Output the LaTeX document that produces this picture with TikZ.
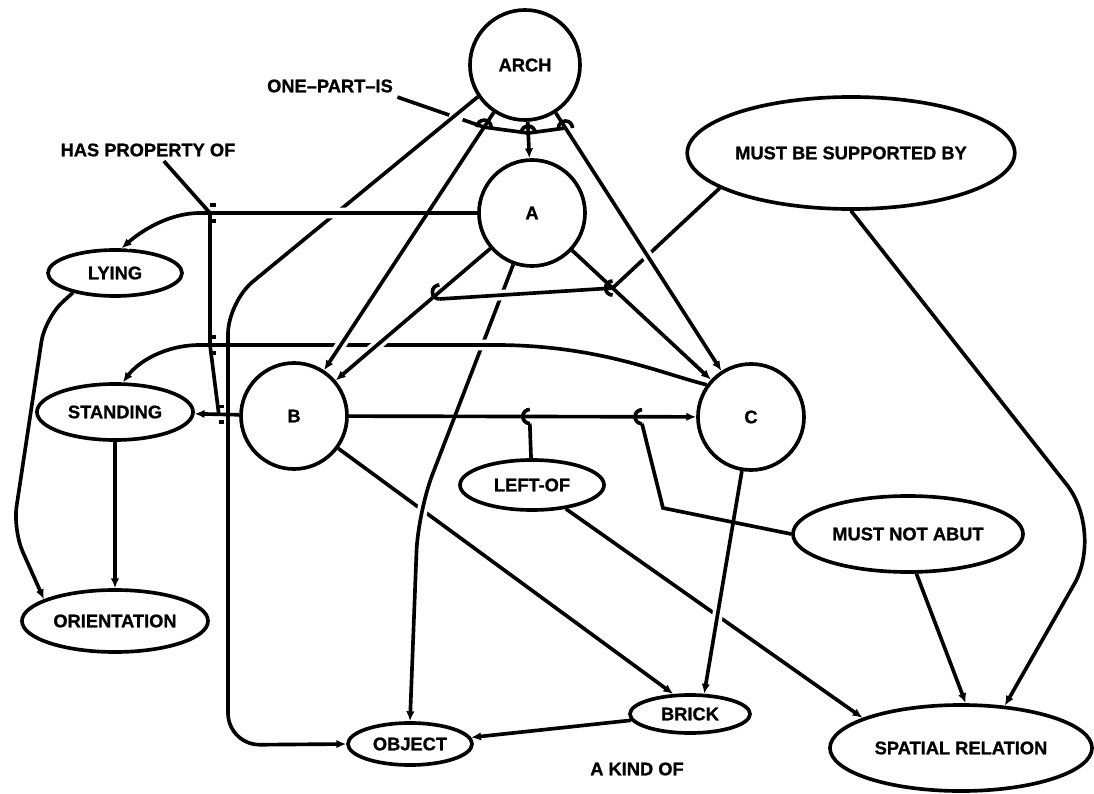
\documentclass[tikz,border=0pt]{standalone}
\usepackage{fontspec}
\setmainfont{Liberation Sans}[BoldFeatures={FakeBold=1}]
\usepackage{tikz}
\usetikzlibrary{calc}
\usetikzlibrary{arrows.meta}
\usetikzlibrary{shapes}
\tikzset{
	every node/.style={font=\bfseries\fontsize{13}{15}\selectfont},
	align=center,
	part/.style={
		draw,
		circle,
		inner sep=0pt,
		minimum size=2.65cm,
	},
	concept/.style={
		draw,
		ellipse,
		inner sep=0pt,
	},
	tag/.style={
		inner sep=2pt,
	},
	link/.style={
		-{Latex[length=7pt,width=6pt]},
	},
	halo/.style={
		preaction={draw=white, line width=7.5pt, -, shorten <=3pt, shorten >=3pt, #1},
	},
	halo/.default={},
	hook/.pic={
		\draw (0,-5pt) arc[start angle=-90, end angle=-270, radius=5pt];
	},
	tick/.pic={
		\draw (0,5.5pt) -- (4pt,5.5pt) (0,-5.5pt) -- (4pt,-5.5pt);
	},
}

\begin{document}
\begin{tikzpicture}[x=0.025cm, y=-0.025cm, line width=2.6pt]
		\useasboundingbox (0,0) rectangle (1094,794);

		\node[part, minimum size=2.75cm]	(arch) at (525,65) {ARCH};
		\node[part]			(a) at (532,213) {A};
		\node[part]			(b) at (294,416) {B};
		\node[part]			(c) at (751,417) {C};

		\node[concept, minimum width=3.35cm, minimum height=1.15cm]	(lying) at (115,273) {LYING};
		\node[concept, minimum width=3.9cm, minimum height=1.4cm]	(standing) at (115,412) {STANDING};
		\node[concept, minimum width=4.65cm, minimum height=1.55cm]	(orientation) at (115,621) {ORIENTATION};
		\node[concept, minimum width=3.1cm, minimum height=1.05cm]	(object) at (410,744) {OBJECT};
		\node[concept, minimum width=3cm, minimum height=0.95cm]	(brick) at (690,714) {BRICK};
		\node[concept, minimum width=6.55cm, minimum height=2.15cm]	(spatial) at (961,748) {SPATIAL RELATION};
		\node[concept, minimum width=5.75cm, minimum height=1.9cm]	(mna) at (908,534) {MUST NOT ABUT};
		\node[concept, minimum width=3.6cm, minimum height=1.25cm]	(leftof) at (532,485) {LEFT-OF};
		\node[concept, minimum width=8cm, minimum height=2.8cm]	(mbsb) at (851,153) {MUST BE SUPPORTED BY};

		\node[tag]			(onepart) at (330,86) {ONE--PART--IS};
		\node[tag]			(hasprop) at (148,150) {HAS PROPERTY OF};
		\node[tag]			(akind) at (637,769) {A KIND OF};

		\coordinate (h1) at ($(arch)!0.177!(b)$);
		\coordinate (h2) at ($(arch)!0.46!(a)$);
		\coordinate (h3) at ($(arch)!0.179!(c)$);
		\coordinate (s1) at ($(a)!0.368!(c)$);
		\coordinate (s2) at ($(a)!0.389!(b)$);
		\coordinate (lo) at ($(b)!0.516!(c)$);
		\coordinate (na) at ($(b)!0.7615!(c)$);
		\coordinate (pa) at (210,213);
		\coordinate (pb) at (210,345);
		\coordinate (pc) at ($(b)!0.42!(standing)$);

%*********

		\draw[link] 					(b) -- (brick.130);
		\draw[link, halo, rounded corners=1cm]	(a.250) -- (418,512) -- (object.north);
		\draw[link, halo] 			(c.144) .. controls (660,373) and (600,346) .. (500,345) -- (200,345) .. controls (165,345) and (138,362) .. (standing.75);
		\draw[link, rounded corners=0.8cm]	(arch.214) -- (228,302) -- (228,745) -- (object.west);
		\draw[link, halo] 			(arch) -- (b);
		\draw[link, halo={shorten <=2cm}]	(a.west) -- (200,213) .. controls (168,213) and (140,232) .. (lying.75);
		\draw[link, halo] 			(a) -- (b);
		\draw[halo={shorten >=5pt}]	(mbsb.195) -- (s1) -- ([yshift=-5pt]s2);
		\draw[link, halo] 			(arch) -- (c);
		\draw[link] 					(a) -- (c);
		\draw[link] 					(b) -- (c);
		\draw[link] 					(leftof) -- (spatial.163);
		\draw[link, halo] 			(c) -- (brick.55);
		\draw 						(mna.west) -- (663,508) -- ([yshift=-5pt]na);
		\draw 						(leftof) -- ([yshift=-5pt]lo);
		\draw[link] 					(arch) -- (a);
		\draw[link] 					(b) -- (standing);
		\draw 						(hasprop.-35) -- (pa) -- (pb) -- (pc);
		\draw[dash pattern=on 39pt off 10pt on 400pt]	(onepart.south east) -- (h1) -- (h2) -- (h3);

%*********

		\draw[link] 					(brick) -- (object);
		\draw[link] 					(standing) -- (orientation);
		\draw[link, rounded corners=0.6cm]	(lying.205) -- (45,318) -- (13,530) -- (orientation.163);
		\draw[link, rounded corners=1.5cm]	(mbsb.south) -- (1104,532) -- (spatial.44);
		\draw[link] 					(mna.-78) -- (spatial.84);

%*********

		\pic[rotate=-90] at (h1) {hook};
		\pic[rotate=-90] at (h2) {hook};
		\pic[rotate=-90] at (h3) {hook};
		\pic at (s1) {hook};
		\pic at (s2) {hook};
		\pic at (lo) {hook};
		\pic at (na) {hook};
		\pic at (pa) {tick};
		\pic at (pb) {tick};
		\pic at (pc) {tick};

	\end{tikzpicture}
\end{document}
